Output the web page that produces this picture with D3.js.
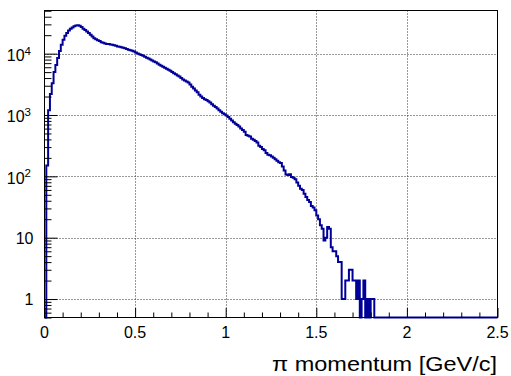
<!DOCTYPE html>
<html>
<head>
<meta charset="utf-8">
<script src="https://cdn.jsdelivr.net/npm/d3@7"></script>
<style>
html,body{margin:0;padding:0;background:#fff;}
svg{display:block;}
text{font-family:"Liberation Sans",Arial,Helvetica,sans-serif;fill:#000;}
</style>
</head>
<body>
<svg id="c" width="511" height="376"></svg>
<script>
// Histogram: pi momentum, 250 bins from 0 to 2.5 GeV/c
const xMin = 0, xMax = 2.5, nBins = 250;
const counts = [
0,150,1200,2200,3300,5000,6500,8500,11000,14000,
16800,19500,21800,23800,25500,26800,28000,28800,29000,28500,
27200,25500,24200,23000,21700,20400,19000,17900,17200,16600,
16000,15400,15000,14600,14400,14300,14100,14000,13700,13400,
13100,12900,12700,12500,12200,11900,11550,11350,11100,10800,
10400,10100,9800,9500,9250,8900,8600,8300,8000,7700,
7450,7250,6900,6600,6350,6100,5900,5650,5450,5250,
5000,4800,4600,4400,4250,4000,3800,3650,3500,3400,
3150,2900,2700,2500,2350,2130,2000,1900,1800,1750,
1680,1600,1500,1420,1350,1270,1200,1130,1070,1030,
980,930,870,810,760,720,690,650,600,570,
535,470,460,445,410,395,375,355,315,300,
280,265,240,225,220,210,200,190,180,170,
165,145,125,107,105,108,98,95,90,79,
70,63,60,52,46,41,38,33,31,28,
23,20,16,14,9,10,15,14,7,6,
6,5,4,4,1,1,2,2,3,3,
2,2,1,2,0,1,2,0,1,0,
1,1,0,0,0,0,0,0,0,0,
0,0,0,0,0,0,0,0,0,0,
0,0,0,0,0,0,0,0,0,0,
0,0,0,0,0,0,0,0,0,0,
0,0,0,0,0,0,0,0,0,0,
0,0,0,0,0,0,0,0,0,0,
0,0,0,0,0,0,0,0,0,0
];
const xTickLabels = ["0","0.5","1","1.5","2","2.5"];
const xTickValues = [0,0.5,1,1.5,2,2.5];
const yTickValues = [1,10,100,1000,10000];
const yTickBase = ["1","10","10","10","10"];
const yTickExp  = ["","","2","3","4"];
const xTitle = "\u03c0 momentum [GeV/c]";
const yMin = 0.5, yMax = 50500;

const L = 44.5, R = 497.5, T = 10.5, B = 317.5;
const svg = d3.select("#c");
svg.append("rect").attr("width",511).attr("height",376).attr("fill","#fff");

const x = d3.scaleLinear().domain([xMin,xMax]).range([L,R]);
const y = d3.scaleLog().domain([yMin,yMax]).range([B,T]).clamp(true);

// grid
const grid = svg.append("g").attr("stroke","#333").attr("stroke-width",1).attr("stroke-dasharray","1,2");
[0.5,1,1.5,2].forEach(v=>{
  grid.append("line").attr("x1",Math.round(x(v))+0.5).attr("x2",Math.round(x(v))+0.5).attr("y1",T).attr("y2",B);
});
yTickValues.forEach(v=>{
  grid.append("line").attr("y1",Math.round(y(v))+0.5).attr("y2",Math.round(y(v))+0.5).attr("x1",L).attr("x2",R);
});

// histogram
const binW = (xMax-xMin)/nBins;
const pts = counts.map((c,i)=>[xMin+i*binW, c]);
pts.push([xMax, counts[nBins-1]]);
const line = d3.line()
  .x(d=>x(d[0]))
  .y(d=>d[1] > 0 ? y(d[1]) : B)
  .curve(d3.curveStepAfter);
svg.append("path").datum(pts)
  .attr("d",line).attr("fill","none")
  .attr("stroke","#000099").attr("stroke-width",2).attr("stroke-linejoin","miter");

// y minor ticks
const yMinor = [];
for (let e=-1;e<=4;e++) for (let m=2;m<=9;m++){ const v=m*Math.pow(10,e); if(v>=yMin && v<=yMax) yMinor.push(v); }
svg.append("g").attr("transform",`translate(${L},0)`)
  .call(d3.axisLeft(y).tickValues(yMinor).tickSize(-7).tickFormat(""))
  .call(g=>g.select(".domain").remove());
svg.append("g").attr("transform",`translate(${L},0)`)
  .call(d3.axisLeft(y).tickValues(yTickValues).tickSize(-13).tickFormat(""))
  .call(g=>g.select(".domain").remove());

// x ticks
const xMinorVals = d3.range(1,25).map(i=>i/10).filter(v=>Math.abs(v*2-Math.round(v*2))>1e-6);
svg.append("g").attr("transform",`translate(0,${B})`)
  .call(d3.axisBottom(x).tickValues(xMinorVals).tickSize(-5).tickFormat(""))
  .call(g=>g.select(".domain").remove());
svg.append("g").attr("transform",`translate(0,${B})`)
  .call(d3.axisBottom(x).tickValues(xTickValues).tickSize(-9.5).tickFormat(""))
  .call(g=>g.select(".domain").remove());

// frame
svg.append("rect").attr("x",L).attr("y",T).attr("width",R-L).attr("height",B-T)
  .attr("fill","none").attr("stroke","#000").attr("stroke-width",1);

// x labels
svg.append("g").selectAll("text").data(xTickValues).join("text")
  .attr("x",d=>x(d)).attr("y",338).attr("text-anchor","middle")
  .attr("font-size",16).text((d,i)=>xTickLabels[i]);

// y labels
const yl = svg.append("g");
yTickValues.forEach((v,i)=>{
  const ty = y(v);
  if (yTickExp[i]==="") {
    yl.append("text").attr("x",33.5).attr("y",ty+6).attr("text-anchor","end")
      .attr("font-size",16).text(yTickBase[i]);
  } else {
    const t = yl.append("text").attr("x",31).attr("y",ty+7.5).attr("text-anchor","end").attr("font-size",16);
    t.append("tspan").text(yTickBase[i]);
    t.append("tspan").attr("font-size",11.5).attr("dy",-6.5).text(yTickExp[i]);
  }
});

// x title
svg.append("text").attr("x",272).attr("y",371).attr("text-anchor","start")
  .attr("font-size",21).attr("textLength",225).attr("lengthAdjust","spacingAndGlyphs")
  .text(xTitle);
</script>
</body>
</html>
